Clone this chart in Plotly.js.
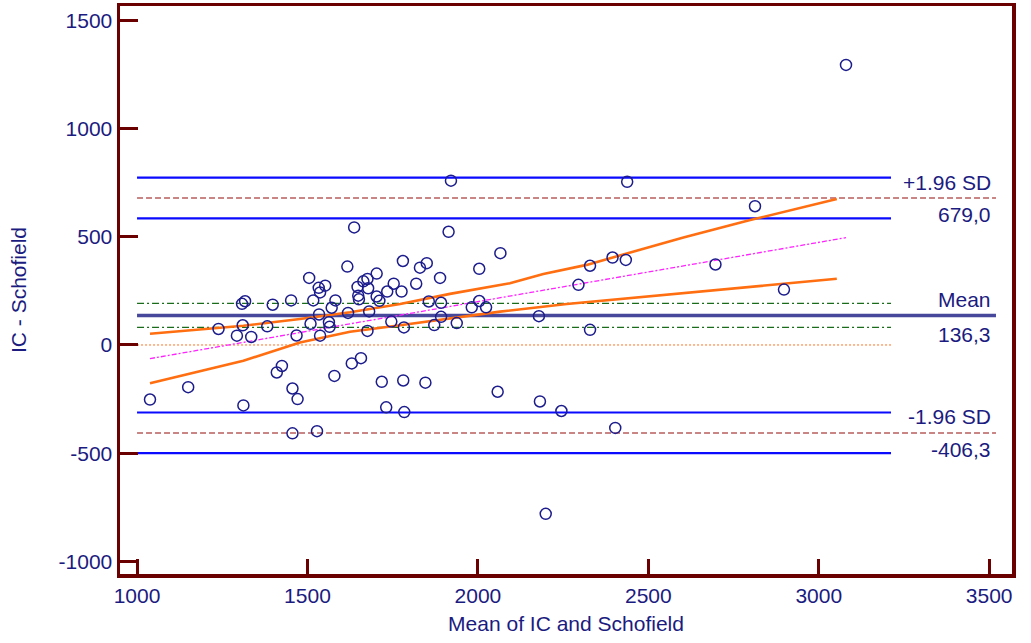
<!DOCTYPE html>
<html>
<head>
<meta charset="utf-8">
<script src="https://cdn.plot.ly/plotly-3.0.1.min.js"></script>
<style>
  html, body { margin: 0; padding: 0; background: #ffffff; }
  #chart { width: 1031px; height: 643px; }
</style>
</head>
<body>
<div id="chart"></div>
<script>
// Bland-Altman data: mean of the two methods vs. their difference (IC - Schofield)
const meanOfMethods = [
  1038, 1150, 1239, 1293, 1308, 1317, 1310, 1312, 1335, 1382,
  1398, 1410, 1425, 1452, 1456, 1456, 1468, 1471, 1505, 1509,
  1517, 1528, 1533, 1552, 1537, 1534, 1537, 1563, 1565, 1571,
  1579, 1582, 1617, 1619, 1630, 1637, 1657, 1647, 1649, 1651,
  1664, 1676, 1678, 1681, 1676, 1703, 1703, 1711, 1718, 1731,
  1734, 1746, 1753, 1776, 1780, 1781, 1783, 1784, 1819, 1830,
  1850, 1846, 1856, 1872, 1889, 1892, 1892, 1921, 1914, 1938,
  1982, 2004, 2024, 2004, 2058, 2066, 2179, 2182, 2199, 2245,
  2295, 2329, 2329, 2395, 2403, 2434, 2438, 2697, 2813, 2898,
  3080
];
const differences = [
  -252, -195, 74, 43, 190, 202, 91, -279, 37, 86,
  186, -127, -97, 206, -201, -408, 44, -250, 310, 98,
  206, -398, 264, 274, 243, 141, 43, 105, 84, 172,
  -143, 206, 362, 148, -85, 543, -61, 268, 228, 211,
  294, 305, 262, 155, 65, 330, 224, 204, -170, -288,
  247, 108, 283, 247, 388, -164, 81, -310, 283, 357,
  378, -174, 201, 92, 310, 195, 130, 759, 523, 101,
  174, 203, 174, 352, -216, 424, 133, -261, -780, -305,
  278, 366, 70, 404, -383, 393, 754, 372, 641, 256,
  1294
];

// Summary statistics
const meanDiff = 136.3;
const upperLoA = 679.0;
const lowerLoA = -406.3;
const meanCI = [81, 192];
const upperLoACI = [585, 773];
const lowerLoACI = [-500, -312];

// Regression of the differences on the means, with its confidence band
const regressionX = [1038, 3080];
const regressionY = [-63, 496];
const bandUpperX = [1038, 1312, 1478, 1625, 1772, 1918, 2094, 2192, 2319, 2456, 2603, 2799, 3053];
const bandUpperY = [52, 89, 120, 151, 189, 236, 285, 328, 370, 431, 497, 577, 674];
const bandLowerX = [1038, 1312, 1478, 1625, 1772, 1918, 2065, 2261, 2456, 2784, 3053];
const bandLowerY = [-177, -73, 11, 61, 91, 123, 154, 189, 218, 269, 306];

// Axis ticks
const xTicks = [1000, 1500, 2000, 2500, 3000, 3500];
const yTicks = [-1000, -500, 0, 500, 1000, 1500];
const yTickLabels = ['-1000', '-500', '0', '500', '1000', '1500'];

// Horizontal extents of the reference lines
const lineStart = 1000;
const shortEnd = 3212;
const longEnd = 3520;
const labelX = 3512;

const FRAME = '#6b0000';
const NAVY = '#1b1b80';
const FONT = 'Liberation Sans, Arial, Helvetica, sans-serif';

function hline(y, x1, color, width, dash) {
  return {
    type: 'scatter', mode: 'lines',
    x: [lineStart, x1], y: [y, y],
    line: { color: color, width: width, dash: dash },
    hoverinfo: 'skip', showlegend: false
  };
}

const traces = [
  hline(0, shortEnd, '#ff7020', 1, '2px,2px'),
  hline(meanCI[0], shortEnd, '#1a6b1a', 1.2, '7px,3px,2px,3px'),
  hline(meanCI[1], shortEnd, '#1a6b1a', 1.2, '7px,3px,2px,3px'),
  hline(upperLoACI[0], shortEnd, '#0a0aff', 2.2, 'solid'),
  hline(upperLoACI[1], shortEnd, '#0a0aff', 2.2, 'solid'),
  hline(lowerLoACI[0], shortEnd, '#0a0aff', 2.2, 'solid'),
  hline(lowerLoACI[1], shortEnd, '#0a0aff', 2.2, 'solid'),
  hline(upperLoA, longEnd, '#b85c5c', 1.5, '6px,3px'),
  hline(lowerLoA, longEnd, '#b85c5c', 1.5, '6px,3px'),
  hline(meanDiff, longEnd, '#47479c', 3.5, 'solid'),
  {
    type: 'scatter', mode: 'lines', x: regressionX, y: regressionY,
    line: { color: '#ff22ff', width: 1.3, dash: '5px,2px,2px,2px' },
    hoverinfo: 'skip', showlegend: false
  },
  {
    type: 'scatter', mode: 'lines', x: bandUpperX, y: bandUpperY,
    line: { color: '#ff6e10', width: 2.6 },
    hoverinfo: 'skip', showlegend: false
  },
  {
    type: 'scatter', mode: 'lines', x: bandLowerX, y: bandLowerY,
    line: { color: '#ff6e10', width: 2.6 },
    hoverinfo: 'skip', showlegend: false
  },
  {
    type: 'scatter', mode: 'markers', x: meanOfMethods, y: differences,
    marker: { symbol: 'circle-open', size: 11, color: '#1c1c8c', line: { width: 1.5, color: '#1c1c8c' } },
    showlegend: false
  }
];

function label(text, y, shift) {
  return {
    xref: 'x', yref: 'y', x: labelX, y: y, yshift: shift,
    text: text, showarrow: false, xanchor: 'right', yanchor: 'middle',
    font: { family: FONT, size: 21, color: NAVY }
  };
}

const layout = {
  width: 1031, height: 643,
  margin: { l: 120, r: 19, t: 6, b: 69, pad: 0 },
  paper_bgcolor: '#ffffff', plot_bgcolor: '#ffffff',
  showlegend: false,
  xaxis: {
    range: [950, 3567],
    tickvals: xTicks,
    ticktext: xTicks.map(String),
    ticks: 'inside', ticklen: 15, tickwidth: 3, tickcolor: FRAME,
    showline: true, linewidth: 3.5, linecolor: FRAME, mirror: true,
    showgrid: false, zeroline: false,
    tickfont: { family: FONT, size: 21, color: NAVY },
    title: { text: 'Mean of IC and Schofield', font: { family: FONT, size: 21, color: NAVY }, standoff: 11 }
  },
  yaxis: {
    range: [-1058, 1566],
    tickvals: yTicks,
    ticktext: yTickLabels,
    ticks: 'inside', ticklen: 18, tickwidth: 3, tickcolor: FRAME,
    showline: true, linewidth: 3.5, linecolor: FRAME, mirror: true,
    showgrid: false, zeroline: false,
    tickfont: { family: FONT, size: 21, color: NAVY },
    title: { text: 'IC - Schofield', font: { family: FONT, size: 21, color: NAVY }, standoff: 27 }
  },
  annotations: [
    label('+1.96 SD', upperLoA, 16),
    label(upperLoA.toFixed(1).replace('.', ','), upperLoA, -16),
    label('Mean', meanDiff, 16),
    label(meanDiff.toFixed(1).replace('.', ','), meanDiff, -19),
    label('-1.96 SD', lowerLoA, 16),
    label(lowerLoA.toFixed(1).replace('.', ','), lowerLoA, -17)
  ]
};

Plotly.newPlot('chart', traces, layout, { displayModeBar: false, staticPlot: true });
</script>
</body>
</html>
